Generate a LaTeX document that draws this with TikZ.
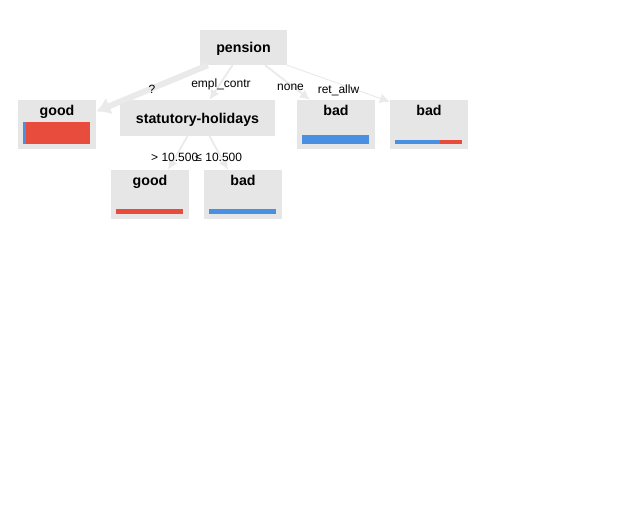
\documentclass[tikz,border=0pt]{standalone}
\usepackage{fontspec}
\setmainfont{Liberation Sans}
\usetikzlibrary{arrows,arrows.meta}
\usetikzlibrary{positioning}
\definecolor{boxgray}{HTML}{E6E6E6}
\definecolor{edgegray}{HTML}{EAEAEA}
\definecolor{barred}{HTML}{E74C3C}
\definecolor{barblue}{HTML}{4A90E2}

\begin{document}
\begin{tikzpicture}[%
      x=1pt, y=-1pt,
      every node/.style={inner sep=0pt},
      split/.style={rectangle, fill=boxgray, font=\fontsize{14.2}{16}\selectfont\bfseries, text height=10pt, text depth=0pt},
      leaf/.style={rectangle, fill=boxgray, minimum width=78pt, minimum height=49pt},
      leaftext/.style={font=\fontsize{14.2}{16}\selectfont\bfseries, anchor=north, yshift=-5pt},
      branch/.style={draw, color=edgegray, line width=1.8pt, -{Latex[length=10pt,width=10pt]}},
      lbl/.style={font=\fontsize{12}{14}\selectfont, text=black}
    ]
    \useasboundingbox (0,0) rectangle (626,520);
    \node [split, minimum width=87pt, minimum height=35pt] (pension) at (243.5,47.5) {pension};
    \node [split, minimum width=155pt, minimum height=36pt] (holidays) at (197.5,118) {statutory-holidays};
    \node [leaf, label={[leaftext]north:good}] (good1) at (57,124.5) {};
    \node [leaf, label={[leaftext]north:bad}] (bad1) at (336,124.5) {};
    \node [leaf, label={[leaftext]north:bad}] (bad2) at (429,124.5) {};
    \node [leaf, label={[leaftext]north:good}] (good2) at (150,194.5) {};
    \node [leaf, label={[leaftext]north:bad}] (bad3) at (243,194.5) {};
    % class bars
    \fill [barblue] (23,122) rectangle (26,144);
    \fill [barred] (26,122) rectangle (90,144);
    \fill [barblue] (302,135) rectangle (369,144);
    \fill [barblue] (395,140) rectangle (440,144);
    \fill [barred] (440,140) rectangle (462,144);
    \fill [barred] (116,209) rectangle (183,214);
    \fill [barblue] (209,209) rectangle (276,214);
    \draw [branch, line width=6pt, -{Latex[length=14pt,width=18pt]}] ([xshift=8pt]pension.south west) -- node [lbl, yshift=-1pt] {?} ([yshift=13pt]good1.east);
    \draw [branch] ([xshift=-11pt]pension.south) -- node [lbl, yshift=-2pt] {empl\_contr} ([xshift=12pt]holidays.north);
    \draw [branch] ([xshift=21.5pt]pension.south) -- node [lbl, xshift=3pt, yshift=-5pt] {none} ([xshift=-26pt]bad1.north);
    \draw [branch, line width=1pt] (pension.south east) -- node [lbl, yshift=-7pt] {ret\_allw} ([yshift=-2pt]bad2.north west);
    \draw [branch] ([xshift=-10pt]holidays.south) -- node [lbl, xshift=-3pt, yshift=-4pt] {> 10.500} ([xshift=18pt]good2.north);
    \draw [branch] ([xshift=12pt]holidays.south) -- node [lbl, yshift=-4pt] {≤ 10.500} ([xshift=-15pt]bad3.north);
\end{tikzpicture}
\end{document}
